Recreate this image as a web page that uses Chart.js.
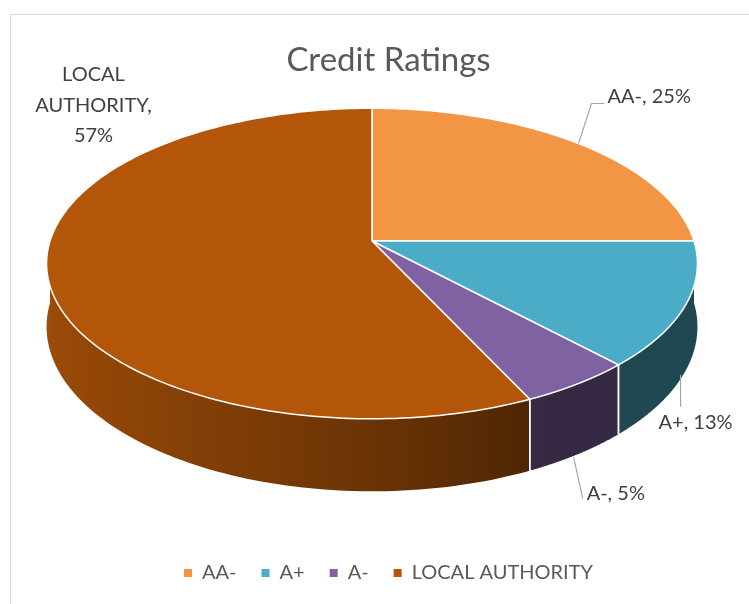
<!DOCTYPE html>
<html>
<head>
<meta charset="utf-8">
<script src="https://cdn.jsdelivr.net/npm/chart.js@4"></script>
<style>
  html, body { margin: 0; padding: 0; background: #fff; }
  #wrap { position: relative; width: 749px; height: 604px; overflow: hidden; }
  #frame { position: absolute; left: 10px; top: 14px; width: 800px; height: 700px;
           border-top: 1.5px solid #d9d9d9; border-left: 1.5px solid #d9d9d9; }
  canvas { position: absolute; left: 0; top: 0; }
</style>
</head>
<body>
<div id="wrap">
  <div id="frame"></div>
  <canvas id="ratings" width="749" height="604"></canvas>
</div>
<script>
const ratingLabels = ["AA-", "A+", "A-", "LOCAL AUTHORITY"];
const ratingShares = [25, 13, 5, 57];

const sliceColors = ["#f29646", "#4aacc6", "#7f62a1", "#b35609"];
const FONT = "Lato, 'Open Sans', sans-serif";

// perspective ellipse for the 3D pie
const G = { cx: 372, cy: 241, a: 322, b: 152, p: 0.145, h: 62 };

function proj(ang, z) {
  const u = Math.cos(ang), v = Math.sin(ang);
  const d = 1 - G.p * v;
  return [G.cx + (G.a * u) / d, G.cy + (G.b * v + z * G.h) / d];
}

function shade(hex, f) {
  const n = parseInt(hex.slice(1), 16);
  const r = Math.round(((n >> 16) & 255) * f);
  const g = Math.round(((n >> 8) & 255) * f);
  const b = Math.round((n & 255) * f);
  return `rgb(${r},${g},${b})`;
}

function wallFactor(ang) {
  const u = Math.cos(ang);
  return u < 0 ? 0.6 - 0.28 * u : Math.max(0.42, 0.6 - 0.38 * u);
}

// where each data label sits relative to its anchor on the pie
const labelLayout = [
  { leader: [[0, 0], [13, -40], [26, -40]], text: [29, -47], align: "left" },
  { leader: [[-5, 4], [-5, 36]], text: [10, 52], align: "center" },
  { leader: [[-4, 3], [5, 44]], text: [9, 39], align: "left" },
  { leader: null, text: [46, -170], align: "center", wrap: ["LOCAL", "AUTHORITY,"] },
];

const pie3d = {
  id: "pie3d",
  beforeDatasetsDraw(chart) {
    const ctx = chart.ctx;
    const arcs = chart.getDatasetMeta(0).data;
    const steps = 90;
    ctx.save();

    // outer walls (front half only)
    arcs.forEach((arc, i) => {
      const s = Math.max(arc.startAngle, 0);
      const e = Math.min(arc.endAngle, Math.PI);
      if (e <= s) return;
      ctx.beginPath();
      for (let k = 0; k <= steps; k++) {
        const t = s + ((e - s) * k) / steps;
        const [x, y] = proj(t, 0);
        k === 0 ? ctx.moveTo(x, y) : ctx.lineTo(x, y);
      }
      for (let k = steps; k >= 0; k--) {
        const t = s + ((e - s) * k) / steps;
        const [x, y] = proj(t, 1);
        ctx.lineTo(x, y);
      }
      ctx.closePath();
      const x0 = proj(s, 0)[0], x1 = proj(e, 0)[0];
      const grad = ctx.createLinearGradient(x0, 0, x1, 0);
      for (let k = 0; k <= 12; k++) {
        const t = s + ((e - s) * k) / 12;
        const pos = Math.min(1, Math.max(0, (proj(t, 0)[0] - x0) / (x1 - x0)));
        grad.addColorStop(pos, shade(sliceColors[i], wallFactor(t)));
      }
      ctx.fillStyle = grad;
      ctx.fill();
    });

    // seams on the walls
    ctx.strokeStyle = "#ffffff";
    ctx.lineWidth = 1.5;
    arcs.forEach((arc) => {
      [arc.startAngle, arc.endAngle].forEach((ang) => {
        const n = ((ang % (2 * Math.PI)) + 2 * Math.PI) % (2 * Math.PI);
        if (n > 0.05 && n < Math.PI - 0.05) {
          const [x0, y0] = proj(n, 0), [x1, y1] = proj(n, 1);
          ctx.beginPath();
          ctx.moveTo(x0, y0);
          ctx.lineTo(x1, y1);
          ctx.stroke();
        }
      });
    });

    // top faces
    arcs.forEach((arc, i) => {
      const s = arc.startAngle, e = arc.endAngle;
      ctx.beginPath();
      ctx.moveTo(G.cx, G.cy);
      for (let k = 0; k <= steps * 2; k++) {
        const t = s + ((e - s) * k) / (steps * 2);
        const [x, y] = proj(t, 0);
        ctx.lineTo(x, y);
      }
      ctx.closePath();
      ctx.fillStyle = sliceColors[i];
      ctx.fill();
      ctx.stroke();
    });
    ctx.restore();
    return false;
  },
  afterDraw(chart) {
    const ctx = chart.ctx;
    const arcs = chart.getDatasetMeta(0).data;
    const total = ratingShares.reduce((a, b) => a + b, 0);
    ctx.save();
    ctx.font = `20px ${FONT}`;
    ctx.fillStyle = "#404040";
    ctx.strokeStyle = "#a6a6a6";
    ctx.lineWidth = 1.2;
    ctx.textBaseline = "middle";
    arcs.forEach((arc, i) => {
      const mid = (arc.startAngle + arc.endAngle) / 2;
      const front = Math.sin(mid) > 0.25;
      const [ax, ay] = proj(mid, front ? 1 : 0);
      const lay = labelLayout[i];
      if (lay.leader) {
        ctx.beginPath();
        lay.leader.forEach(([dx, dy], k) => {
          k === 0 ? ctx.moveTo(ax + dx, ay + dy) : ctx.lineTo(ax + dx, ay + dy);
        });
        ctx.stroke();
      }
      const pct = Math.round((ratingShares[i] / total) * 100) + "%";
      ctx.textAlign = lay.align;
      const tx = ax + lay.text[0], ty = ay + lay.text[1];
      if (lay.wrap) {
        const lines = [lay.wrap[0], lay.wrap[1], pct];
        lines.forEach((ln, k) => ctx.fillText(ln, tx, ty + (k - 1) * 30.5));
      } else {
        ctx.fillText(`${ratingLabels[i]}, ${pct}`, tx, ty);
      }
    });
    ctx.restore();
  },
};

new Chart(document.getElementById("ratings").getContext("2d"), {
  type: "pie",
  data: {
    labels: ratingLabels,
    datasets: [{ data: ratingShares, backgroundColor: sliceColors, borderWidth: 0 }],
  },
  options: {
    responsive: false,
    animation: false,
    layout: { padding: { top: 41, left: 28, right: 0, bottom: 11 } },
    plugins: {
      title: {
        display: true,
        text: "Credit Ratings",
        color: "#595959",
        font: { family: FONT, size: 33, weight: "normal" },
        padding: { top: 0, bottom: 10 },
      },
      legend: {
        position: "bottom",
        labels: {
          boxWidth: 8,
          boxHeight: 8,
          padding: 25,
          color: "#595959",
          font: { family: FONT, size: 20 },
        },
      },
      tooltip: { enabled: false },
    },
  },
  plugins: [pie3d],
});
</script>
</body>
</html>
